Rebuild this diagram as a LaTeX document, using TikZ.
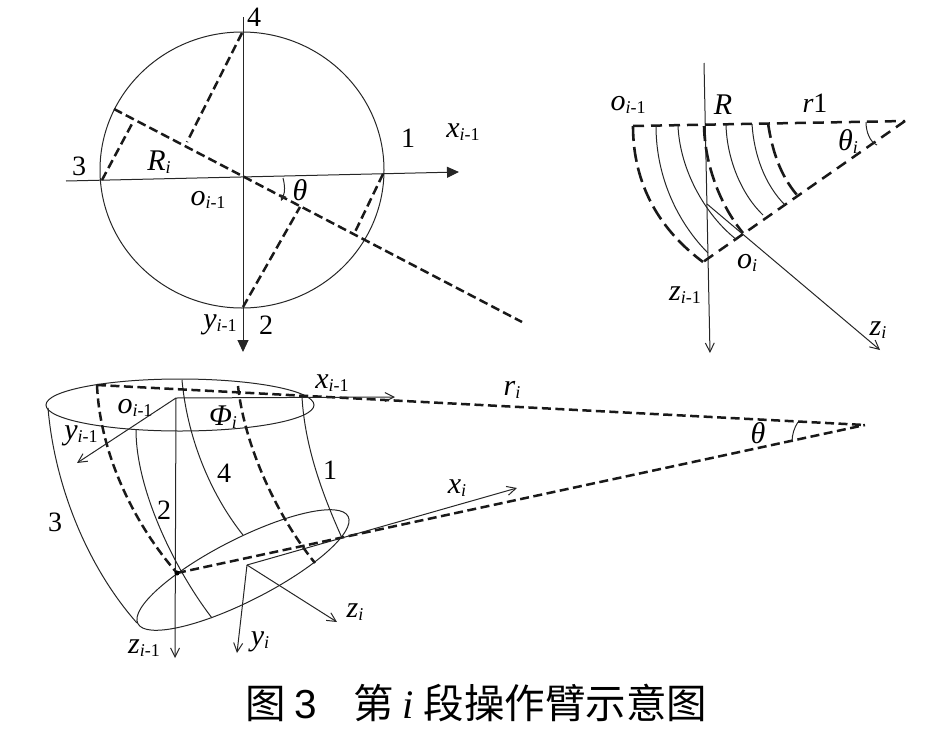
\documentclass[tikz,border=0pt]{standalone}
\usepackage{fontspec}
\setmainfont{Liberation Serif}
\newfontfamily\tms{Liberation Serif}
\newfontfamily\cjk{Noto Sans CJK SC}
\newfontfamily\hel{Liberation Sans}
\usetikzlibrary{arrows.meta}
\tikzset{
  thin line/.style={line width=1pt,black!85},
  dash line/.style={line width=2.5pt,black!90,dash pattern=on 9pt off 4.5pt},
  wide dash/.style={line width=2.5pt,black!90,dash pattern=on 11pt off 7pt},
  long dash/.style={line width=2.6pt,black!90,dash pattern=on 15pt off 6pt},
  open arrow/.style={-{Straight Barb[length=9pt,width=9pt,line width=1pt]}},
  solid arrow/.style={-{Triangle[length=12pt,width=11pt]}},
  lab/.style={inner sep=0pt,font=\tms\fontsize{28}{28}\selectfont},
  var/.style={inner sep=0pt,font=\tms\fontsize{30}{30}\selectfont\itshape},
}
\newcommand{\subim}{\raisebox{-3pt}{\fontsize{18}{18}\selectfont\itshape i\upshape -1}}
\newcommand{\subi}{\raisebox{-3pt}{\fontsize{18}{18}\selectfont\itshape i}}
\begin{document}
\begin{tikzpicture}[x=1pt,y=-1pt]
\useasboundingbox (0,0) rectangle (932,734);
% ---------- top left ----------
\coordinate (O) at (243,176);
\draw[thin line] (242,170) ellipse [x radius=142,y radius=138];
\coordinate (axT) at (243,17);
\coordinate (axB) at (243,352);
\coordinate (axL) at (66,181);
\coordinate (axR) at (459,172);
\draw[thin line,solid arrow] (axT) -- (axB);
\draw[thin line,solid arrow] (axL) -- (axR);
\coordinate (dA) at (114,109);
\coordinate (dB) at (522,322);
\draw[dash line,dash pattern=on 9pt off 4.3pt] (dA) -- (dB);
\draw[dash line] (242,33) -- (187,142);
\draw[dash line] (102,180) -- (133,122);
\draw[dash line] (243,307) -- (300,207);
\draw[dash line] (383,174) -- (355,232);
\draw[thin line,-{Triangle[length=6pt,width=6pt]}] (283,178) .. controls (285,185) and (285,192) .. (281,201);
\node[lab] (t4) at (254,17) {4};
\node[lab] (t1) at (408,138) {1};
\node[lab] (t3) at (79,166) {3};
\node[lab] (t2) at (266,325) {2};
\node[var] (tx) at (463,132) {x\subim};
\node[var] (tR) at (159,162) {R\subi};
\node[var] (to) at (208,200) {o\subim};
\node[var] (tth) at (300,190) {θ};
\node[var] (ty) at (220,325) {y\subim};
% ---------- top right ----------
\coordinate (A) at (905,121);
\coordinate (B) at (633,126);
\coordinate (C) at (703,262);
\draw[thin line,open arrow] (704,63) -- (710,353);
\draw[wide dash] (B) -- (A);
\draw[wide dash] (A) -- (C);
\draw[long dash] (B) .. controls (633,185) and (660,230) .. (C);
\draw[thin line] (656,126) .. controls (656,180) and (680,225) .. (708,253);
\draw[thin line] (678,126) .. controls (680,170) and (705,215) .. (737,240);
\draw[long dash] (704,126) .. controls (705,165) and (720,205) .. (743,233);
\draw[thin line] (726,125) .. controls (727,160) and (742,195) .. (763,215);
\draw[thin line] (752,124) .. controls (754,155) and (765,185) .. (785,205);
\draw[long dash] (768,123) .. controls (772,150) and (780,175) .. (797,195);
\draw[thin line,open arrow] (707,204) -- (880,350);
\draw[thin line] (866,122) .. controls (866,132) and (870,142) .. (877,145);
\node[var] (ro) at (628,105) {o\subim};
\node[var] (rR) at (723,105) {R};
\node[lab] (rr) at (815,103) {\itshape r\upshape 1};
\node[var] (rth) at (848,142) {θ\subi};
\node[var] (roi) at (747,263) {o\subi};
\node[var] (rz) at (685,295) {z\subim};
\node[var] (rzi) at (878,330) {z\subi};
% ---------- bottom ----------
\coordinate (P) at (865,425);
\coordinate (Q1) at (97,385);
\coordinate (Q2) at (177,573);
\coordinate (C1) at (176,398);
\coordinate (C2) at (247,565);
\draw[thin line] (180,405) ellipse [x radius=134,y radius=26];
\draw[thin line,rotate around={27:(243,570)}] (243,570) ellipse [x radius=118,y radius=31];
\draw[thin line] (48,408) .. controls (55,490) and (90,570) .. (137,623);
\draw[thin line] (136,430) .. controls (136,490) and (175,570) .. (212,618);
\draw[thin line] (182,380) .. controls (188,445) and (215,500) .. (243,535);
\draw[thin line] (302,397) .. controls (305,450) and (325,500) .. (342,538);
\draw[dash line] (Q1) .. controls (100,455) and (135,525) .. (Q2);
\draw[dash line] (238,386) .. controls (245,450) and (280,520) .. (315,563);
\draw[dash line] (Q1) -- (P);
\draw[dash line] (Q2) -- (P);
\draw[thin line,open arrow] (C1) -- (175,658);
\draw[thin line,open arrow] (C1) -- (395,397);
\draw[thin line,open arrow] (C1) -- (77,463);
\draw[thin line,open arrow] (C2) -- (517,488);
\draw[thin line,open arrow] (C2) -- (237,653);
\draw[thin line,open arrow] (C2) -- (337,622);
\draw[thin line] (798,422) .. controls (794,428) and (792,435) .. (792,442);
\fill (Q2) circle (2.5pt);
\node[var] (bx) at (332,383) {x\subim};
\node[var] (br) at (512,390) {r\subi};
\node[var] (bth) at (758,433) {θ};
\node[var] (bxi) at (457,488) {x\subi};
\node[var] (bph) at (223,417) {Φ\subi};
\node[var] (bo) at (135,408) {o\subim};
\node[var] (by) at (81,436) {y\subim};
\node[lab] (b4) at (224,473) {4};
\node[lab] (b1) at (330,470) {1};
\node[lab] (b2) at (164,510) {2};
\node[lab] (b3) at (55,522) {3};
\node[var] (bzi) at (355,612) {z\subi};
\node[var] (byi) at (260,642) {y\subi};
\node[var] (bz) at (144,648) {z\subim};
% ---------- caption ----------
\node[inner sep=0pt,anchor=west] (cap) at (245,703) {\fontsize{40.5}{40.5}\selectfont\cjk 图\hspace{9pt}{\hel 3}\hspace{36pt}第\hspace{9pt}{\tms\itshape i}\hspace{10pt}段操作臂示意图};
\end{tikzpicture}
\end{document}
